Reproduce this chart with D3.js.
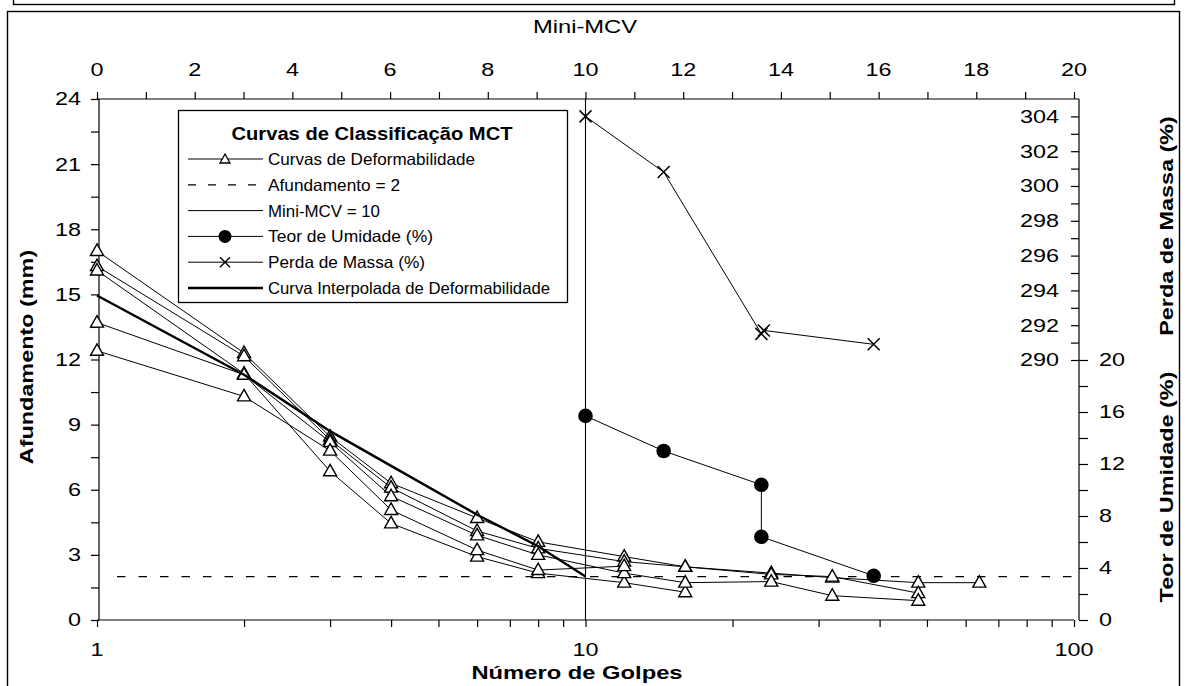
<!DOCTYPE html>
<html>
<head>
<meta charset="utf-8">
<script src="https://cdn.jsdelivr.net/npm/d3@7"></script>
<style>
  html, body { margin: 0; padding: 0; background: #fff; }
  svg { display: block; font-family: "Liberation Sans", Arial, sans-serif; }
</style>
</head>
<body>
<svg id="chart" width="1186" height="686"></svg>
<script>
// ---- Ensaio Mini-MCV: curvas de deformabilidade ----
const golpes = [1, 2, 3, 4, 6, 8, 12, 16, 24, 32, 48, 64];

// afundamento (mm) de cada curva, alinhado com "golpes" (null = sem leitura)
const curva1 = [17.0, 12.3, 8.45, 6.3, 4.7, 3.6, 2.92, 2.45, 2.16, 1.95, 1.72, 1.72];
const curva2 = [16.3, 12.15, 8.3, 6.1, 4.1, 3.3, 2.69, 2.45, 2.1, 2.0, 1.24, null];
const curva3 = [16.1, 11.35, 6.85, 4.45, 2.92, 2.16, 1.72, 1.28, null, null, null, null];
const curva4 = [13.7, 11.3, 8.2, 5.7, 3.9, 3.0, 2.16, 1.72, 1.77, 1.12, 0.89, null];
const curva5 = [12.4, 10.3, 7.8, 5.07, 3.22, 2.3, 2.48, null, null, null, null, null];
const curvas = [curva1, curva2, curva3, curva4, curva5];

// curva interpolada para Mini-MCV = 10
const interpGolpes = [1, 2, 3, 4, 6, 8, 10];
const interpAfund = [14.95, 11.3, 8.7, 7.1, 4.85, 3.4, 2.0];

// teor de umidade e perda de massa por imersão, em função do Mini-MCV
const mcvUmidade = [10, 11.6, 13.6, 13.6, 15.9];
const teorUmidade = [15.7, 13.0, 10.4, 6.4, 3.4];
const mcvPerda = [10, 11.6, 13.6, 13.65, 15.9];
const perdaMassa = [304.0, 300.8, 291.5, 291.7, 290.9];

// linhas de referência
const afundRef = 2;
const mcvRef = 10;

// marcas dos eixos
const afundTicks = [0, 3, 6, 9, 12, 15, 18, 21, 24];
const mcvTicks = [0, 2, 4, 6, 8, 10, 12, 14, 16, 18, 20];
const golpesTicks = [1, 10, 100];
const perdaTicks = [290, 292, 294, 296, 298, 300, 302, 304];
const teorTicks = [0, 4, 8, 12, 16, 20];

const svg = d3.select("#chart");

const x = d3.scaleLog().domain([1, 100]).range([97, 1074]);
const xMcv = d3.scaleLinear().domain([0, 20]).range([97, 1074]);
const y = d3.scaleLinear().domain([0, 24]).range([620, 99]);
const yTeor = d3.scaleLinear().domain([0, 20]).range([620, 360]);
const yPerda = d3.scaleLinear().domain([290, 305]).range([360, 99]);
const xRight = 1079;

function label(g, px, py, str, o = {}) {
  const sx = o.sx ?? 1.3;
  return g.append("text")
    .attr("transform", `translate(${px},${py}) rotate(${o.rotate || 0}) scale(${sx},1)`)
    .attr("text-anchor", o.anchor || "middle")
    .attr("dominant-baseline", "central")
    .attr("font-size", o.size || 18)
    .attr("font-weight", o.weight || "normal")
    .attr("fill", "#000")
    .text(str);
}

// molduras
svg.append("rect").attr("x", 13.5).attr("y", -20).attr("width", 1161).attr("height", 24.5)
  .attr("fill", "none").attr("stroke", "#000").attr("stroke-width", 1.4);
svg.append("rect").attr("x", 7.5).attr("y", 11.5).attr("width", 1172).attr("height", 700)
  .attr("fill", "#fff").attr("stroke", "#000").attr("stroke-width", 1.4);

const axes = svg.append("g").attr("stroke", "#000").attr("fill", "none").attr("stroke-width", 1.2);

// eixo esquerdo (afundamento)
const gLeft = svg.append("g").attr("transform", `translate(99,0)`)
  .call(d3.axisLeft(y).tickValues(d3.range(0, 24.01, 1.5)).tickSize(8).tickFormat("").tickSizeOuter(0));
// eixo inferior (golpes, log)
const minorGolpes = [];
[1, 10].forEach(dec => { for (let k = 1; k <= 9; k++) minorGolpes.push(dec * k); });
minorGolpes.push(100);
const gBottom = svg.append("g").attr("transform", `translate(0,620)`)
  .call(d3.axisBottom(x).tickValues(minorGolpes).tickSize(7).tickFormat("").tickSizeOuter(0));
// eixo superior (Mini-MCV)
const gTop = svg.append("g").attr("transform", `translate(0,99)`)
  .call(d3.axisTop(xMcv).tickValues(d3.range(0, 20.01, 1)).tickSize(7).tickFormat("").tickSizeOuter(0));
// eixo direito superior (perda de massa)
const gPerda = svg.append("g").attr("transform", `translate(${xRight},0)`)
  .call(d3.axisLeft(yPerda).tickValues(d3.range(290, 304.01, 1)).tickSize(8).tickFormat("").tickSizeOuter(0));
// eixo direito inferior (teor de umidade)
const gTeor = svg.append("g").attr("transform", `translate(${xRight},0)`)
  .call(d3.axisRight(yTeor).tickValues(d3.range(0, 20.01, 2)).tickSize(9).tickFormat("").tickSizeOuter(0));

[gLeft, gBottom, gTop, gPerda, gTeor].forEach(g => {
  g.selectAll(".domain").remove();
  g.selectAll("line").attr("stroke", "#000").attr("stroke-width", 1.2);
});

// linhas dos eixos
axes.append("line").attr("x1", 99).attr("x2", 99).attr("y1", y(24)).attr("y2", y(0));
axes.append("line").attr("x1", x(1)).attr("x2", x(100)).attr("y1", y(0)).attr("y2", y(0));
axes.append("line").attr("x1", xMcv(0)).attr("x2", xRight).attr("y1", y(24)).attr("y2", y(24));
axes.append("line").attr("x1", xRight).attr("x2", xRight).attr("y1", y(24)).attr("y2", y(0));

// rótulos dos eixos
const gl = svg.append("g");
afundTicks.forEach(v => label(gl, 81, y(v), v, { anchor: "end" }));
golpesTicks.forEach(v => label(gl, x(v), 650, v));
mcvTicks.forEach(v => label(gl, xMcv(v), 70, v));
perdaTicks.forEach(v => label(gl, 1059, yPerda(v), v, { anchor: "end" }));
teorTicks.forEach(v => label(gl, 1099, yTeor(v), v, { anchor: "start" }));

label(gl, 585, 27, "Mini-MCV", { size: 19, sx: 1.25 });
label(gl, 577, 673, "Número de Golpes", { weight: "bold", size: 19, sx: 1.25 });
label(gl, 27, 357, "Afundamento (mm)", { weight: "bold", size: 18, rotate: -90 });
label(gl, 1167, 226, "Perda de Massa (%)", { weight: "bold", size: 18, rotate: -90 });
label(gl, 1167, 487, "Teor de Umidade (%)", { weight: "bold", size: 18, rotate: -90 });

// séries
const plot = svg.append("g");
const lineG = d3.line().defined(d => d[1] != null).x(d => x(d[0])).y(d => y(d[1]));
const triPath = "M0,-7L6.5,4.5L-6.5,4.5Z";

// linha de referência: afundamento = 2 mm
plot.append("line")
  .attr("x1", x(1) + 20).attr("x2", x(100)).attr("y1", y(afundRef)).attr("y2", y(afundRef))
  .attr("stroke", "#000").attr("stroke-width", 1.2).attr("stroke-dasharray", "8.5 13");

// linha de referência: Mini-MCV = 10
plot.append("line")
  .attr("x1", xMcv(mcvRef)).attr("x2", xMcv(mcvRef)).attr("y1", y(24)).attr("y2", y(0))
  .attr("stroke", "#000").attr("stroke-width", 1.1);

curvas.forEach(c => {
  const pts = golpes.map((g, i) => [g, c[i]]);
  plot.append("path").attr("d", lineG(pts)).attr("fill", "none").attr("stroke", "#000").attr("stroke-width", 1);
  plot.selectAll(null).data(pts.filter(p => p[1] != null)).join("path")
    .attr("d", triPath)
    .attr("transform", p => `translate(${x(p[0])},${y(p[1])})`)
    .attr("fill", "#fff").attr("stroke", "#000").attr("stroke-width", 1.4);
});

plot.append("path").attr("d", lineG(interpGolpes.map((g, i) => [g, interpAfund[i]])))
  .attr("fill", "none").attr("stroke", "#000").attr("stroke-width", 2.4);

// teor de umidade
const umid = mcvUmidade.map((m, i) => [m, teorUmidade[i]]);
plot.append("path").attr("d", d3.line().x(d => xMcv(d[0])).y(d => yTeor(d[1]))(umid))
  .attr("fill", "none").attr("stroke", "#000").attr("stroke-width", 1);
plot.selectAll(null).data(umid).join("circle")
  .attr("cx", d => xMcv(d[0])).attr("cy", d => yTeor(d[1])).attr("r", 7.3).attr("fill", "#000");

// perda de massa
const perda = mcvPerda.map((m, i) => [m, perdaMassa[i]]);
plot.append("path").attr("d", d3.line().x(d => xMcv(d[0])).y(d => yPerda(d[1]))(perda))
  .attr("fill", "none").attr("stroke", "#000").attr("stroke-width", 1);
plot.selectAll(null).data(perda).join("path")
  .attr("d", "M-6,-6L6,6M-6,6L6,-6")
  .attr("transform", d => `translate(${xMcv(d[0])},${yPerda(d[1])})`)
  .attr("stroke", "#000").attr("stroke-width", 1.5);

// legenda
const leg = svg.append("g");
leg.append("rect").attr("x", 178.5).attr("y", 110.5).attr("width", 389).attr("height", 192)
  .attr("fill", "#fff").attr("stroke", "#000").attr("stroke-width", 1.3);
leg.append("text").attr("x", 372).attr("y", 134).attr("text-anchor", "middle")
  .attr("dominant-baseline", "central").attr("font-size", 18).attr("font-weight", "bold")
  .attr("textLength", 281).attr("lengthAdjust", "spacingAndGlyphs")
  .text("Curvas de Classificação MCT");

const legItems = [
  { t: "Curvas de Deformabilidade", w: 207, kind: "tri" },
  { t: "Afundamento = 2", w: 132, kind: "dash" },
  { t: "Mini-MCV = 10", w: 112, kind: "plain" },
  { t: "Teor de Umidade (%)", w: 165, kind: "dot" },
  { t: "Perda de Massa (%)", w: 157, kind: "x" },
  { t: "Curva Interpolada de Deformabilidade", w: 282, kind: "thick" }
];
legItems.forEach((it, i) => {
  const ly = 159 + i * 25.8;
  const ln = leg.append("line").attr("x1", 188).attr("x2", 263).attr("y1", ly).attr("y2", ly)
    .attr("stroke", "#000").attr("stroke-width", it.kind === "thick" ? 2.6 : 1);
  if (it.kind === "dash") ln.attr("stroke-dasharray", "8 12").attr("x1", 188).attr("stroke-width", 1.2);
  if (it.kind === "tri") leg.append("path").attr("d", "M0,-5L5,4L-5,4Z").attr("transform", `translate(225,${ly})`)
    .attr("fill", "#fff").attr("stroke", "#000").attr("stroke-width", 1.3);
  if (it.kind === "dot") leg.append("circle").attr("cx", 225).attr("cy", ly).attr("r", 6.5).attr("fill", "#000");
  if (it.kind === "x") leg.append("path").attr("d", "M-5,-5L5,5M-5,5L5,-5").attr("transform", `translate(225,${ly})`)
    .attr("stroke", "#000").attr("stroke-width", 1.4);
  leg.append("text").attr("x", 268).attr("y", ly).attr("dominant-baseline", "central")
    .attr("font-size", 16.5).attr("textLength", it.w).attr("lengthAdjust", "spacingAndGlyphs")
    .text(it.t);
});
</script>
</body>
</html>
